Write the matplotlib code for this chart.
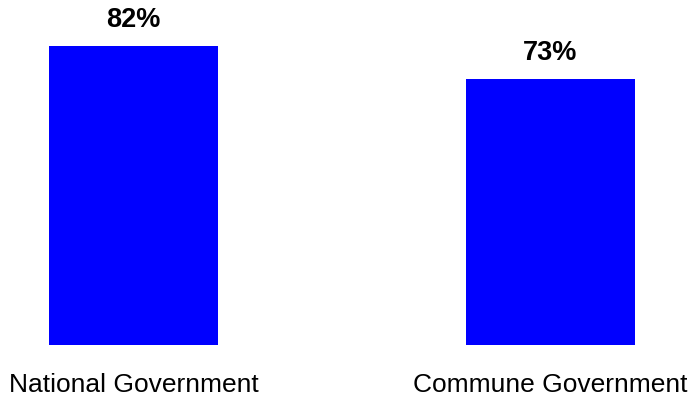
import matplotlib
matplotlib.use("Agg")
import matplotlib.pyplot as plt

categories = ["National Government", "Commune Government"]
values = [82, 73]
value_labels = ["82%", "73%"]

plt.rcParams["font.family"] = ["Liberation Sans", "DejaVu Sans"]

fig = plt.figure(figsize=(6.92, 4.02), dpi=100)
ax = fig.add_axes([0.0, 0.140, 1.0, 0.860])

x = list(range(len(categories)))
bars = ax.bar(x, values, width=0.405, color="#0000FF")

for bar, lab in zip(bars, value_labels):
    ax.annotate(lab, (bar.get_x() + bar.get_width() / 2, bar.get_height()),
                xytext=(0, 14), textcoords="offset points",
                ha="center", va="baseline", fontsize=19.5, fontweight="bold")

ax.set_xlim(-0.3201, 1.3393)
ax.set_ylim(0, 94.8)
ax.set_xticks(x)
ax.set_xticklabels(categories, fontsize=19)
ax.tick_params(axis="x", length=0, pad=19.5)
ax.set_yticks([])
for s in ax.spines.values():
    s.set_visible(False)

fig.savefig("out.png", dpi=100)
